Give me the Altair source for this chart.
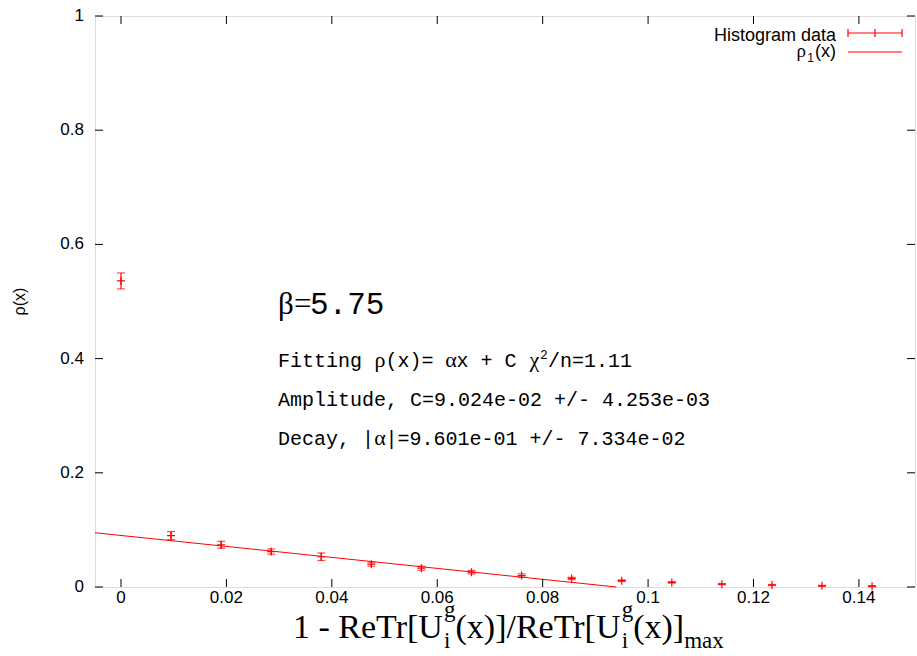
import altair as alt
import pandas as pd

# Histogram of the link variable distance, with a linear fit rho(x) = C - |alpha| x
bin_x = [0.0, 0.0095, 0.019, 0.0285, 0.038, 0.0475, 0.057, 0.0665,
         0.076, 0.0855, 0.095, 0.1045, 0.114, 0.1235, 0.133, 0.1425]
rho = [0.536, 0.090, 0.074, 0.062, 0.053, 0.040, 0.033, 0.026,
       0.020, 0.015, 0.011, 0.008, 0.005, 0.0035, 0.002, 0.0015]
rho_err = [0.014, 0.007, 0.006, 0.0045, 0.0065, 0.0035, 0.0035, 0.003,
           0.003, 0.002, 0.0015, 0.0012, 0.001, 0.001, 0.0008, 0.0008]

# fit parameters
fit_C = 9.024e-02
fit_alpha = 9.601e-01

x_ticks = [0, 0.02, 0.04, 0.06, 0.08, 0.10, 0.12, 0.14]
x_tick_labels = ["0", "0.02", "0.04", "0.06", "0.08", "0.1", "0.12", "0.14"]
y_ticks = [0, 0.2, 0.4, 0.6, 0.8, 1.0]
y_tick_labels = ["0", "0.2", "0.4", "0.6", "0.8", "1"]
x_domain = [-0.00493, 0.15064]
y_domain = [0, 1]

W, H = 820, 571
RED = "#ff0000"
SANS = "Liberation Sans"
SERIF = "Liberation Serif"
MONO = "Liberation Mono"

df = pd.DataFrame({"x": bin_x, "rho": rho, "err": rho_err})
df["lo"] = df["rho"] - df["err"]
df["hi"] = df["rho"] + df["err"]

fit_df = pd.DataFrame({
    "x": [x_domain[0], fit_C / fit_alpha],
    "rho": [fit_C - fit_alpha * x_domain[0], 0.0],
})

xs = alt.Scale(domain=x_domain, nice=False, zero=False)
ys = alt.Scale(domain=y_domain, nice=False, zero=False)


def X(field):
    return alt.X(field, scale=xs, axis=None)


def Y(field):
    return alt.Y(field, scale=ys, axis=None)


base = alt.Chart(df)

# error bars with caps and a "+" at each value
bars = base.mark_rule(color=RED, strokeWidth=1.2).encode(
    x=X("x:Q"), y=Y("lo:Q"), y2="hi:Q")
caps_lo = base.mark_tick(color=RED, orient="horizontal", size=8, thickness=1.2).encode(
    x=X("x:Q"), y=Y("lo:Q"))
caps_hi = base.mark_tick(color=RED, orient="horizontal", size=8, thickness=1.2).encode(
    x=X("x:Q"), y=Y("hi:Q"))
crosses = base.mark_point(shape="M-1,0L1,0M0,-1L0,1", size=64, filled=False,
                          color=RED, strokeWidth=1.2, opacity=1).encode(
    x=X("x:Q"), y=Y("rho:Q"))

fit_line = alt.Chart(fit_df).mark_line(color=RED, strokeWidth=1.1).encode(
    x=X("x:Q"), y=Y("rho:Q"))

# inward ticks on all four sides, and tick labels
xt = alt.Chart(pd.DataFrame({"t": x_ticks, "lab": x_tick_labels}))
yt = alt.Chart(pd.DataFrame({"t": y_ticks, "lab": y_tick_labels}))
TL = 8
tick_layers = [
    xt.mark_rule(color="black", strokeWidth=1).encode(
        x=X("t:Q"), y=alt.value(H), y2=alt.value(H - TL)),
    xt.mark_rule(color="black", strokeWidth=1).encode(
        x=X("t:Q"), y=alt.value(0), y2=alt.value(TL)),
    yt.mark_rule(color="black", strokeWidth=1).encode(
        y=Y("t:Q"), x=alt.value(0), x2=alt.value(TL)),
    yt.mark_rule(color="black", strokeWidth=1).encode(
        y=Y("t:Q"), x=alt.value(W - TL), x2=alt.value(W)),
    xt.mark_text(font=SANS, fontSize=17, color="black", align="center",
                 baseline="top").encode(
        x=X("t:Q"), y=alt.value(H + 3), text="lab:N"),
    yt.mark_text(font=SANS, fontSize=17, color="black", align="right",
                 baseline="middle").encode(
        y=Y("t:Q"), x=alt.value(-11), text="lab:N"),
]

one = pd.DataFrame({"k": [0]})


def label(text, x, y, size, font, align="left", baseline="alphabetic", angle=0):
    return alt.Chart(one).mark_text(
        text=text, font=font, fontSize=size, align=align, baseline=baseline,
        color="black", angle=angle,
    ).encode(x=alt.value(x), y=alt.value(y))


def seg(x1, x2, y1, y2, color=RED, width=1.2):
    return alt.Chart(one).mark_rule(color=color, strokeWidth=width).encode(
        x=alt.value(x1), x2=alt.value(x2), y=alt.value(y1), y2=alt.value(y2))


texts = []

# y-axis title
texts.append(label("ρ(x)", -75, H / 2, 16, SANS, align="center",
                   baseline="middle", angle=270))

# x-axis title built from pieces (subscripts / superscripts)
XB, SUB, SUP = 622, 632, 601
texts += [
    label("1 - ReTr[U", 198, XB, 34, SERIF),
    label("i", 349, SUB, 23, SERIF),
    label("g", 349, SUP, 23, SERIF),
    label("(x)]/ReTr[U", 360.5, XB, 34, SERIF),
    label("i", 526.7, SUB, 23, SERIF),
    label("g", 526.7, SUP, 23, SERIF),
    label("(x)]", 538.2, XB, 34, SERIF),
    label("max", 589.2, SUB, 23, SERIF),
]

# annotation block
AX = 183
texts += [
    label("β", AX, 298, 31, SERIF),
    label("=", AX + 16, 298, 31, SERIF),
    label("5.75", AX + 32, 298, 31, MONO),
]
FB = 351
texts += [
    label("Fitting ", AX, FB, 20, MONO),
    label("ρ", AX + 96.4 + 5.5, FB, 22, SERIF, align="center"),
    label("(x)= ", AX + 107.4, FB, 20, MONO),
    label("α", AX + 167.6 + 5.5, FB, 22, SERIF, align="center"),
    label("x + C ", AX + 178.6, FB, 20, MONO),
    label("χ", AX + 250.9 + 5.5, FB, 22, SERIF, align="center"),
    label("2", AX + 261.9, FB - 8, 13, MONO),
    label("/n=1.11", AX + 269.9, FB, 20, MONO),
]
texts.append(label("Amplitude, C=9.024e-02 +/- 4.253e-03", AX, 390, 20, MONO))
DB = 429
texts += [
    label("Decay, |", AX, DB, 20, MONO),
    label("α", AX + 96.4 + 5.5, DB, 22, SERIF, align="center"),
    label("|=9.601e-01 +/- 7.334e-02", AX + 107.4, DB, 20, MONO),
]

# key
texts += [
    label("Histogram data", 741, 25, 18, SANS, align="right"),
    label("(x)", 741, 41, 18, SANS, align="right"),
    label("1", 719, 46, 12, SANS, align="right"),
    label("ρ", 711, 41, 19, SERIF, align="right"),
]
key_marks = [
    seg(753, 807, 17, 17),
    seg(753, 753, 13, 21),
    seg(807, 807, 13, 21),
    seg(780, 780, 13, 21),
    seg(753, 807, 36, 36, width=1.1),
]

chart = alt.layer(
    bars, caps_lo, caps_hi, crosses, fit_line, *tick_layers, *key_marks, *texts
).properties(
    width=W, height=H,
    autosize=alt.AutoSizeParams(type="none"),
    padding={"left": 95, "top": 16, "right": 2, "bottom": 69},
).configure_view(
    stroke="black", strokeWidth=1.2
).configure(background="white")

chart.save("out.html", embed_options={"renderer": "svg", "actions": False})
